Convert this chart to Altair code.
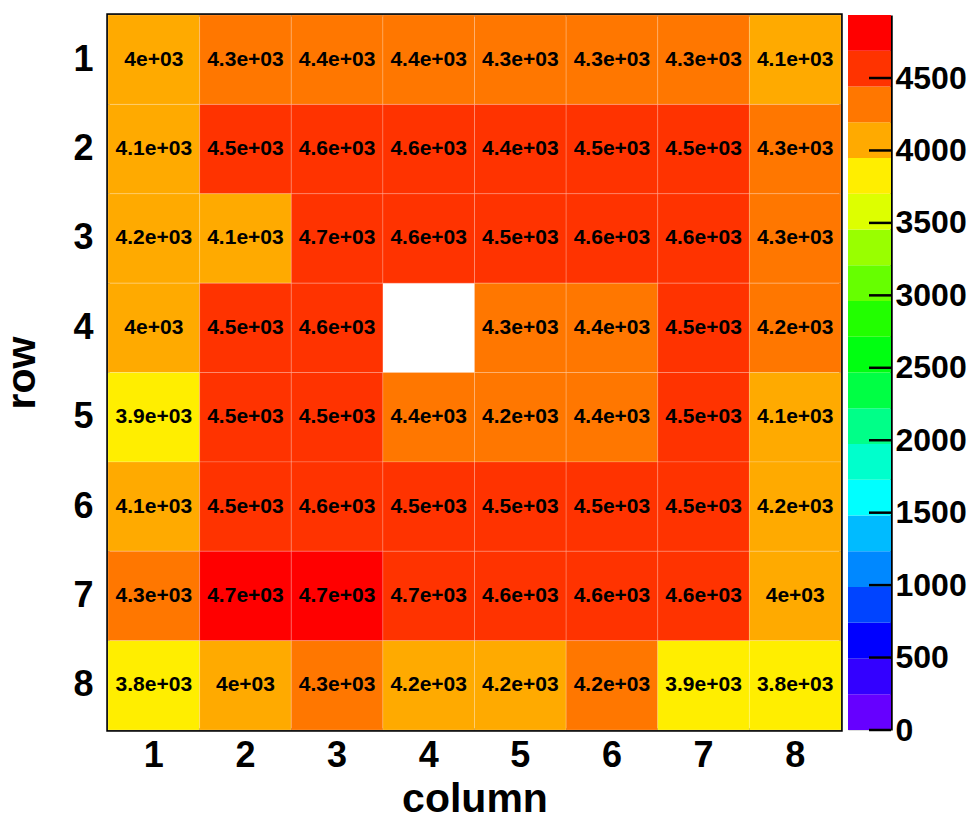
import altair as alt
import pandas as pd

# Grid coordinates
columns = [1, 2, 3, 4, 5, 6, 7, 8]
rows = [1, 2, 3, 4, 5, 6, 7, 8]

# Counts per cell, one list per row (row 1 first); None = empty cell
counts = [
    [4000, 4300, 4400, 4400, 4300, 4300, 4300, 4100],
    [4100, 4500, 4600, 4600, 4445, 4500, 4500, 4300],
    [4180, 4100, 4660, 4600, 4500, 4600, 4600, 4300],
    [4000, 4500, 4600, None, 4300, 4400, 4500, 4220],
    [3900, 4500, 4500, 4400, 4220, 4400, 4500, 4100],
    [4100, 4500, 4600, 4500, 4500, 4500, 4500, 4180],
    [4300, 4720, 4720, 4670, 4600, 4600, 4600, 4000],
    [3800, 4000, 4300, 4180, 4180, 4220, 3900, 3800],
]

# Colour axis: 20 contour levels between 0 and z_max
z_max = 4935
n_levels = 20
palette = [
    "#6600ff", "#3300ff", "#0000ff", "#0044ff", "#0088ff",
    "#00bbff", "#00ffff", "#00ffcc", "#00ff88", "#00ff44",
    "#00ff11", "#22ff00", "#66ff00", "#99ff00", "#ddff00",
    "#ffee00", "#ffaa00", "#ff7700", "#ff3300", "#ff0000",
]
z_ticks = [0, 500, 1000, 1500, 2000, 2500, 3000, 3500, 4000, 4500]

FONT = "Liberation Sans"

cells = pd.DataFrame(
    [
        {"row": r, "column": c, "count": v, "label": f"{v:.2g}"}
        for r, vals in zip(rows, counts)
        for c, v in zip(columns, vals)
        if v is not None
    ]
)

step = z_max / n_levels
levels = pd.DataFrame(
    {
        "lo": [i * step for i in range(n_levels)],
        "hi": [(i + 1) * step for i in range(n_levels)],
        "mid": [(i + 0.5) * step for i in range(n_levels)],
    }
)
ticks = pd.DataFrame({"z": z_ticks})

color_scale = alt.Scale(type="quantize", domain=[0, z_max], range=palette)

x_enc = alt.X(
    "column:O",
    sort=columns,
    scale=alt.Scale(paddingInner=0, paddingOuter=0),
    axis=alt.Axis(
        title="column", labelAngle=0, ticks=False, domain=False,
        labelFontSize=36, labelFontWeight="bold", labelPadding=8,
        titleFontSize=41, titleFontWeight="bold", titlePadding=6,
    ),
)
y_enc = alt.Y(
    "row:O",
    sort=rows,
    scale=alt.Scale(paddingInner=0, paddingOuter=0),
    axis=alt.Axis(
        title="row", ticks=False, domain=False,
        labelFontSize=36, labelFontWeight="bold", labelPadding=15,
        titleFontSize=41, titleFontWeight="bold", titlePadding=29,
    ),
)

base = alt.Chart(cells).encode(x=x_enc, y=y_enc)

heat = base.mark_rect(stroke="white", strokeOpacity=0.18, strokeWidth=1).encode(
    color=alt.Color("count:Q", scale=color_scale, legend=None)
)
values = base.mark_text(font=FONT, fontSize=21, fontWeight="bold", color="black").encode(
    text="label:N"
)

heatmap = alt.layer(heat, values).properties(
    width=733, height=715,
    view=alt.ViewBackground(stroke="black", strokeWidth=3.5),
)

z_scale = alt.Scale(domain=[0, z_max], nice=False, zero=True)

bar = alt.Chart(levels).mark_rect().encode(
    y=alt.Y(
        "lo:Q", scale=z_scale,
        axis=alt.Axis(
            orient="right", title=None, values=z_ticks, format="d", ticks=False,
            domain=True, domainColor="black", domainWidth=2.5,
            labelFontSize=32, labelFontWeight="bold", labelPadding=4,
            labelFlush=False, labelOverlap=False,
        ),
    ),
    y2="hi:Q",
    color=alt.Color("mid:Q", scale=color_scale, legend=None),
)
bar_ticks = alt.Chart(ticks).mark_rule(color="black", strokeWidth=2.5).encode(
    y=alt.Y("z:Q", scale=z_scale),
    x=alt.value(21),
    x2=alt.value(43),
)
colorbar = alt.layer(bar, bar_ticks).properties(
    width=43, height=715,
    view=alt.ViewBackground(stroke=None),
)

chart = (
    alt.hconcat(heatmap, colorbar, spacing=4)
    .resolve_scale(color="independent", y="independent")
    .properties(padding={"left": 0, "top": 12, "right": 0, "bottom": 0})
    .configure(font=FONT)
    .configure_axis(labelColor="black", titleColor="black")
)

chart.save("out.html", embed_options={"renderer": "svg", "actions": False})
